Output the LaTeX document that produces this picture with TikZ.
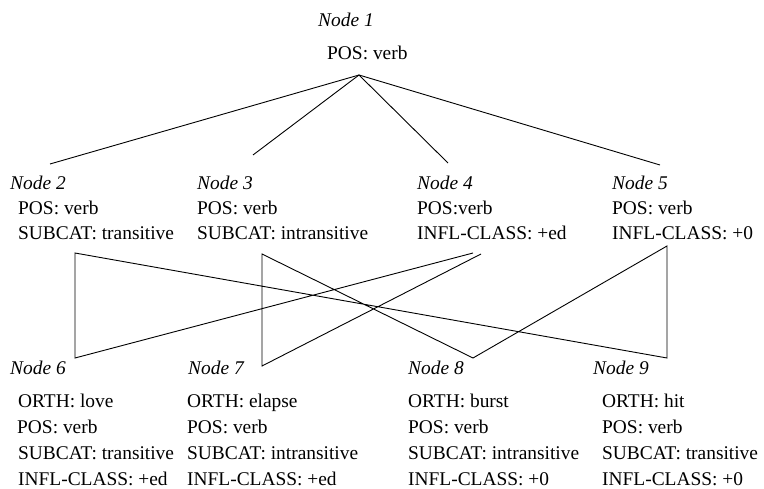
\documentclass[tikz,border=0pt]{standalone}
\usepackage{fontspec}
\setmainfont{Liberation Serif}
\begin{document}
\begin{tikzpicture}[x=1pt,y=-1pt,
  lbl/.style={anchor=base west,inner sep=0pt,font=\fontsize{19.4}{23}\selectfont},
  ttl/.style={anchor=base west,inner sep=0pt,font=\fontsize{19.4}{23}\selectfont\itshape},
  link/.style={line width=0.9pt,line join=miter}]
\useasboundingbox (0,0) rectangle (764,489);

% ---- top node
\node[ttl] (t1) at (318,27) {Node 1};
\node[lbl] (a1) at (327,60) {POS: verb};

% ---- middle row
\node[ttl] (t2) at (10,190) {Node 2};
\node[lbl] (a2) at (18,215) {POS: verb};
\node[lbl] (b2) at (18,240) {SUBCAT: transitive};

\node[ttl] (t3) at (197,190) {Node 3};
\node[lbl] (a3) at (197,215) {POS: verb};
\node[lbl] (b3) at (197,240) {SUBCAT: intransitive};

\node[ttl] (t4) at (417,190) {Node 4};
\node[lbl] (a4) at (417,215) {POS:verb};
\node[lbl] (b4) at (417,240) {INFL-CLASS: +ed};

\node[ttl] (t5) at (612,190) {Node 5};
\node[lbl] (a5) at (612,215) {POS: verb};
\node[lbl] (b5) at (612,240) {INFL-CLASS: +0};

% ---- bottom row
\node[ttl] (t6) at (10,375) {Node 6};
\node[lbl] (a6) at (18,407) {ORTH: love};
\node[lbl] (b6) at (17,433) {POS: verb};
\node[lbl] (c6) at (18,459) {SUBCAT: transitive};
\node[lbl] (d6) at (18,485) {INFL-CLASS: +ed};

\node[ttl] (t7) at (188,375) {Node 7};
\node[lbl] (a7) at (187,407) {ORTH: elapse};
\node[lbl] (b7) at (187,433) {POS: verb};
\node[lbl] (c7) at (187,459) {SUBCAT: intransitive};
\node[lbl] (d7) at (187,485) {INFL-CLASS: +ed};

\node[ttl] (t8) at (408,375) {Node 8};
\node[lbl] (a8) at (408,407) {ORTH: burst};
\node[lbl] (b8) at (408,433) {POS: verb};
\node[lbl] (c8) at (408,459) {SUBCAT: intransitive};
\node[lbl] (d8) at (408,485) {INFL-CLASS: +0};

\node[ttl] (t9) at (593,375) {Node 9};
\node[lbl] (a9) at (602,407) {ORTH: hit};
\node[lbl] (b9) at (602,433) {POS: verb};
\node[lbl] (c9) at (602,459) {SUBCAT: transitive};
\node[lbl] (d9) at (602,485) {INFL-CLASS: +0};

% ---- attachment points
\coordinate (r1) at (359,75);
\coordinate (u2) at (50,164);
\coordinate (u3) at (253,155);
\coordinate (u4) at (448,163);
\coordinate (u5) at (660,165);

\coordinate (d2) at (75,253);
\coordinate (d3) at (262,254);
\coordinate (d4a) at (473,253);
\coordinate (d4b) at (481,254);
\coordinate (d5) at (667,246);

\coordinate (u6) at (75,358);
\coordinate (u7) at (262,366);
\coordinate (u8) at (473,358);
\coordinate (u9) at (667,358);

% ---- links from the top node
\draw[link] (u2) -- (r1) -- (u5);
\draw[link] (u3) -- (r1) -- (u4);

% ---- crossing links between the middle and bottom rows
\draw[link] (d4a) -- (u6) -- (d2) -- (u9) -- (d5) -- (u8) -- (d3) -- (u7) -- (d4b);
\end{tikzpicture}
\end{document}
